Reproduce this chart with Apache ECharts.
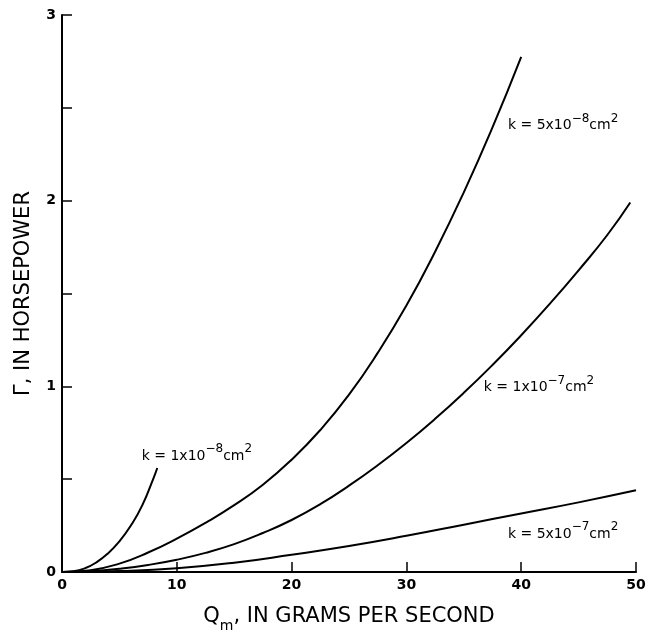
<!DOCTYPE html>
<html>
<head>
<meta charset="utf-8">
<script src="https://cdn.jsdelivr.net/npm/echarts@6/dist/echarts.min.js"></script>
<style>
  html,body{margin:0;padding:0;background:#fff;}
  #chart{width:650px;height:638px;}
</style>
</head>
<body>
<div id="chart"></div>
<script>
// values (Qm in g/s, power in hp)
var qK1e8  = [0, 1, 2, 3, 4, 5, 6, 7, 8, 8.3];
var pK1e8  = [0, 0.004, 0.02, 0.052, 0.1, 0.165, 0.25, 0.36, 0.51, 0.56];

var qK5e8  = [0, 2.5, 5, 7.5, 10, 12.5, 15, 17.5, 20, 22.5, 25, 27.5, 30, 32.5, 35, 37.5, 40];
var pK5e8  = [0, 0.01, 0.045, 0.105, 0.18, 0.265, 0.36, 0.47, 0.605, 0.765, 0.955, 1.18, 1.435, 1.725, 2.045, 2.395, 2.775];

var qK1e7  = [0, 2.5, 5, 7.5, 10, 12.5, 15, 17.5, 20, 22.5, 25, 27.5, 30, 32.5, 35, 37.5, 40, 42.5, 45, 47.5, 49.5];
var pK1e7  = [0, 0.005, 0.018, 0.038, 0.066, 0.103, 0.15, 0.21, 0.28, 0.365, 0.465, 0.575, 0.695, 0.825, 0.965, 1.115, 1.275, 1.445, 1.625, 1.815, 1.99];

var qK5e7  = [0, 5, 10, 15, 20, 25, 30, 35, 40, 45, 50];
var pK5e7  = [0, 0.005, 0.02, 0.05, 0.093, 0.14, 0.195, 0.255, 0.315, 0.375, 0.44];

var xTicks = [0, 10, 20, 30, 40, 50];
var yTicks = [0, 1, 2, 3];

var FONT = '"DejaVu Sans", Arial, sans-serif';

function pairs(xs, ys){
    var out = [];
    for(var i=0;i<xs.length;i++){
        out.push([xs[i], ys[i]]);
    }
    return out;
}

var kRich = {
    t:   {fontFamily: FONT, fontSize: 14, color: '#000', lineHeight: 20, verticalAlign: 'bottom'},
    sup: {fontFamily: FONT, fontSize: 12, color: '#000', lineHeight: 20, verticalAlign: 'top'}
};

// label drawn next to a curve, anchored in data space
function kLabel(coord, mant, exp){
    return {
        symbol: 'circle',
        symbolSize: 1,
        itemStyle: {color: 'rgba(0,0,0,0)'},
        silent: true,
        data: [{coord: coord}],
        label: {
            show: true,
            position: 'right',
            distance: 0,
            formatter: '{t|k = ' + mant + 'x10}{sup|−' + exp + '}{t|cm}{sup|2}',
            rich: kRich
        }
    };
}

function curve(xs, ys, mark){
    return {
        type: 'line',
        smooth: true,
        showSymbol: false,
        symbol: 'none',
        data: pairs(xs, ys),
        lineStyle: {color: '#000', width: 2},
        markPoint: mark,
        animation: false
    };
}

function drawing(){
    var dom = document.getElementById('chart');
    var myChart = echarts.init(dom);
    var option = {
        backgroundColor: '#fff',
        animation: false,
        grid: {left: 62, right: 14, top: 15, bottom: 59},
        xAxis: {
            type: 'value',
            min: xTicks[0],
            max: xTicks[xTicks.length - 1],
            interval: 10,
            name: '{q|Q}{sub|m}{n|, IN GRAMS PER SECOND}',
            nameLocation: 'middle',
            nameGap: 34,
            nameTextStyle: {
                rich: {
                    q:   {fontFamily: FONT, fontSize: 21, color: '#000', lineHeight: 27, verticalAlign: 'top'},
                    sub: {fontFamily: FONT, fontSize: 14, color: '#000', lineHeight: 27, verticalAlign: 'bottom'},
                    n:   {fontFamily: FONT, fontSize: 21, color: '#000', lineHeight: 27, verticalAlign: 'top'}
                }
            },
            axisLine: {lineStyle: {color: '#000', width: 2}},
            axisTick: {inside: true, length: 10, lineStyle: {color: '#000', width: 1.5}},
            axisLabel: {fontFamily: FONT, fontSize: 14, fontWeight: 'bold', color: '#000', margin: 6},
            splitLine: {show: false}
        },
        yAxis: {
            type: 'value',
            min: 0,
            max: yTicks[yTicks.length - 1],
            interval: 0.5,
            name: 'Γ, IN HORSEPOWER',
            nameLocation: 'middle',
            nameGap: 28,
            nameTextStyle: {fontFamily: FONT, fontSize: 21, color: '#000'},
            axisLine: {show: true, lineStyle: {color: '#000', width: 2}},
            axisTick: {show: true, inside: true, length: 10, lineStyle: {color: '#000', width: 1.5}},
            axisLabel: {
                fontFamily: FONT, fontSize: 14, fontWeight: 'bold', color: '#000', margin: 6,
                formatter: function(v){
                    return yTicks.indexOf(v) >= 0 ? String(v) : '';
                }
            },
            splitLine: {show: false}
        },
        series: [
            curve(qK1e8, pK1e8, kLabel([6.9, 0.64], '1', '8')),
            curve(qK5e8, pK5e8, kLabel([38.8, 2.42], '5', '8')),
            curve(qK1e7, pK1e7, kLabel([36.7, 1.01], '1', '7')),
            curve(qK5e7, pK5e7, kLabel([38.8, 0.22], '5', '7'))
        ]
    };
    myChart.setOption(option, true);
    window.onresize = myChart.resize;
}

drawing();
</script>
</body>
</html>
